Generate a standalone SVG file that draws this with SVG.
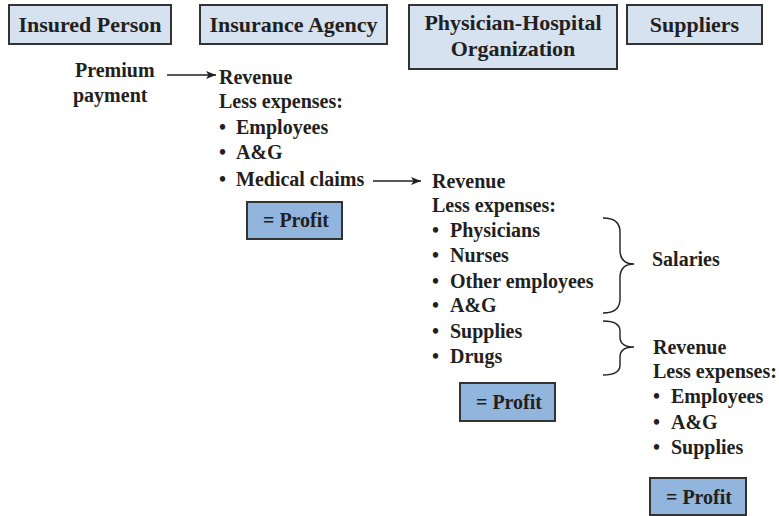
<svg xmlns="http://www.w3.org/2000/svg" width="779" height="516" viewBox="0 0 779 516">
  <style>
    text { font-family: "Liberation Serif", "Times New Roman", serif; font-weight: bold; fill: #231f20; }
    .hdr { fill: #d6e2f0; stroke: #333; stroke-width: 2; }
    .hdr-t { font-size: 22px; text-anchor: middle; }
    .body { font-size: 20px; }
    .profit { fill: #92b5dd; stroke: #333; stroke-width: 2; }
    .profit-t { font-size: 20px; text-anchor: middle; }
    .conn { stroke: #231f20; stroke-width: 1.5; fill: none; }
    .brace { stroke: #231f20; stroke-width: 1.4; fill: none; }
  </style>
  <defs>
    <marker id="arrow" viewBox="0 0 10 8" refX="10" refY="4" markerWidth="10" markerHeight="8" markerUnits="userSpaceOnUse" orient="auto">
      <path d="M0,0 L10,4 L0,8 L2.5,4 Z" fill="#231f20"/>
    </marker>
  </defs>
  <rect width="779" height="516" fill="#fff"/>

  <!-- column headers -->
  <g id="insured-person">
    <rect class="hdr" x="9" y="5" width="162" height="39"/>
    <text class="hdr-t" x="90" y="32">Insured Person</text>
  </g>
  <g id="insurance-agency">
    <rect class="hdr" x="200" y="5" width="187" height="39"/>
    <text class="hdr-t" x="293.5" y="32">Insurance Agency</text>
  </g>
  <g id="pho">
    <rect class="hdr" x="409" y="5" width="208" height="64"/>
    <text class="hdr-t" x="513" y="30">Physician-Hospital</text>
    <text class="hdr-t" x="513" y="56">Organization</text>
  </g>
  <g id="suppliers">
    <rect class="hdr" x="627" y="5" width="135" height="39"/>
    <text class="hdr-t" x="694.5" y="32">Suppliers</text>
  </g>

  <!-- insured person -->
  <g id="premium">
    <text class="body" x="75" y="77">Premium</text>
    <text class="body" x="73" y="102">payment</text>
  </g>

  <!-- insurance agency ledger -->
  <g id="agency-ledger">
    <text class="body" x="219" y="84">Revenue</text>
    <text class="body" x="219" y="108">Less expenses:</text>
    <text class="body" x="219" y="134">•</text><text class="body" x="236" y="134">Employees</text>
    <text class="body" x="219" y="159">•</text><text class="body" x="236" y="159">A&amp;G</text>
    <text class="body" x="219" y="186">•</text><text class="body" x="236" y="186">Medical claims</text>
  </g>
  <g id="agency-profit">
    <rect class="profit" x="247" y="202" width="95" height="37"/>
    <text class="profit-t" x="296" y="227">= Profit</text>
  </g>

  <!-- physician-hospital organization ledger -->
  <g id="pho-ledger">
    <text class="body" x="432" y="188">Revenue</text>
    <text class="body" x="432" y="212">Less expenses:</text>
    <text class="body" x="432" y="237">•</text><text class="body" x="450" y="237">Physicians</text>
    <text class="body" x="432" y="262">•</text><text class="body" x="450" y="262">Nurses</text>
    <text class="body" x="432" y="288">•</text><text class="body" x="450" y="288">Other employees</text>
    <text class="body" x="432" y="312">•</text><text class="body" x="450" y="312">A&amp;G</text>
    <text class="body" x="432" y="338">•</text><text class="body" x="450" y="338">Supplies</text>
    <text class="body" x="432" y="363">•</text><text class="body" x="450" y="363">Drugs</text>
  </g>
  <g id="pho-profit">
    <rect class="profit" x="460" y="383" width="95" height="38"/>
    <text class="profit-t" x="509" y="409">= Profit</text>
  </g>

  <g id="salaries">
    <text class="body" x="652" y="266">Salaries</text>
  </g>

  <!-- suppliers ledger -->
  <g id="supplier-ledger">
    <text class="body" x="653" y="354">Revenue</text>
    <text class="body" x="653" y="378">Less expenses:</text>
    <text class="body" x="653" y="403">•</text><text class="body" x="671" y="403">Employees</text>
    <text class="body" x="653" y="429">•</text><text class="body" x="671" y="429">A&amp;G</text>
    <text class="body" x="653" y="454">•</text><text class="body" x="671" y="454">Supplies</text>
  </g>
  <g id="supplier-profit">
    <rect class="profit" x="650" y="478" width="96" height="37"/>
    <text class="profit-t" x="699" y="504">= Profit</text>
  </g>

  <!-- connectors -->
  <g id="connectors">
    <line class="conn" x1="167" y1="75" x2="216" y2="75" marker-end="url(#arrow)"/>
    <line class="conn" x1="373" y1="181" x2="421" y2="181" marker-end="url(#arrow)"/>
    <path class="brace" d="M603,218 Q620,218 620,232 L620,250 Q620,264 634,264 Q620,264 620,278 L620,299 Q620,313 603,313"/>
    <path class="brace" d="M603,321 Q620,321 620,331 L620,337 Q620,347 634,347 Q620,347 620,357 L620,365 Q620,375 603,375"/>
  </g>
</svg>
